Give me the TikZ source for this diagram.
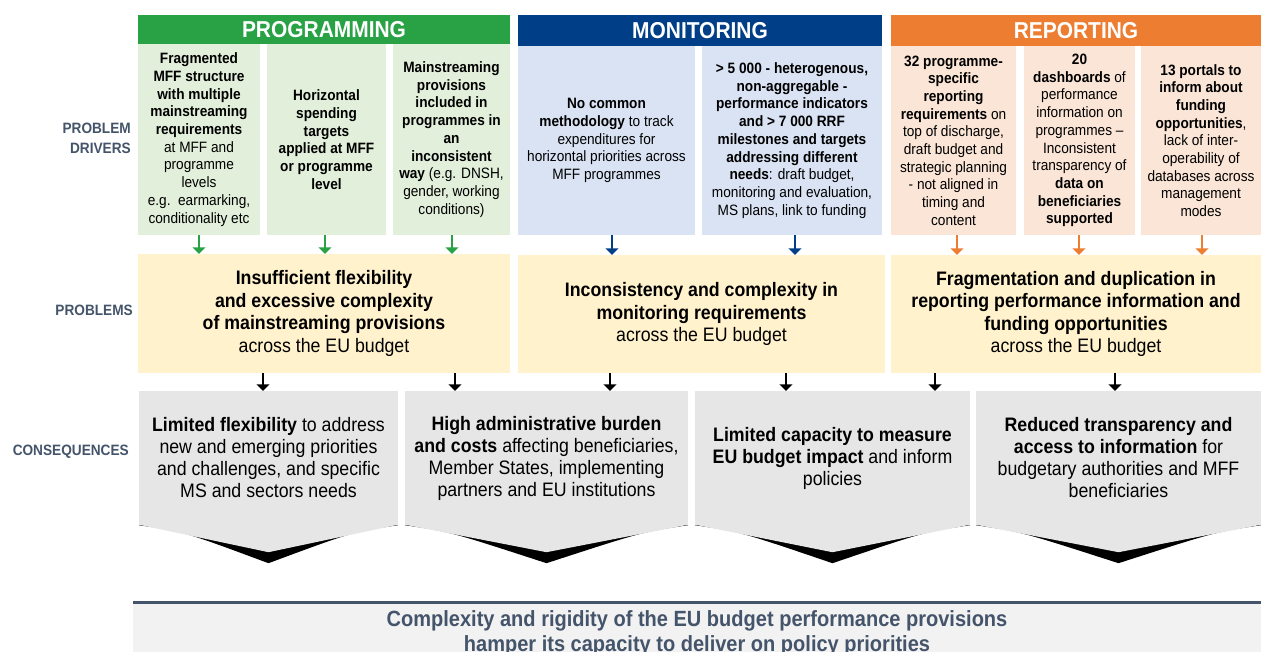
\documentclass[tikz,border=0pt]{standalone}
\usepackage{fontspec}
\setmainfont{Liberation Sans}[FakeStretch=0.91]
\usetikzlibrary{arrows.meta}
\definecolor{hgreen}{RGB}{40,162,69}
\definecolor{hblue}{RGB}{0,63,135}
\definecolor{horange}{RGB}{237,125,49}
\definecolor{lgreen}{RGB}{226,239,218}
\definecolor{lblue}{RGB}{218,227,243}
\definecolor{lpeach}{RGB}{251,229,214}
\definecolor{probY}{RGB}{255,242,204}
\definecolor{consG}{RGB}{231,230,230}
\definecolor{botG}{RGB}{242,242,242}
\definecolor{slate}{RGB}{68,84,106}
\tikzset{
  hdr/.style={text=white, inner sep=0pt, font=\bfseries\fontsize{23}{26}\selectfont},
  drv/.style={align=center, inner sep=0pt, text=black, font=\fontsize{15}{17.7}\selectfont},
  prob/.style={fill=probY, align=center, inner sep=0pt, text=black, font=\fontsize{19.5}{22.4}\selectfont},
  cons/.style={fill=consG, align=center, inner sep=0pt, text=black, font=\fontsize{19.5}{22}\selectfont},
  lbl/.style={anchor=east, align=right, inner sep=0pt, text=slate, font=\bfseries\fontsize{15}{20}\selectfont},
  arr/.style={line width=2.6pt, -{Triangle[width=13pt,length=6.5pt]}},
}
\begin{document}
\begin{tikzpicture}[x=1pt,y=-1pt]
\useasboundingbox (0,0) rectangle (1261,652);
\fill[white] (0,0) rectangle (1261,652);

% headers
\node[hdr, fill=hgreen, minimum width=372pt, minimum height=29pt] (h1) at (324,29.5) {PROGRAMMING};
\node[hdr, fill=hblue, minimum width=364pt, minimum height=31pt] (h2) at (700,30.5) {MONITORING};
\node[hdr, fill=horange, minimum width=370pt, minimum height=31pt] (h3) at (1076,30.5) {REPORTING};

% drivers
\node[drv, fill=lgreen, minimum width=122pt, minimum height=191pt] (d1) at (199,139.5)
 {\textbf{Fragmented}\\\textbf{MFF structure}\\\textbf{with multiple}\\\textbf{mainstreaming}\\\textbf{requirements}\\at MFF and\\programme\\levels\\e.g.\ \ earmarking,\\conditionality etc};
\node[drv, fill=lgreen, minimum width=119pt, minimum height=191pt] (d2) at (326.5,139.5)
 {\textbf{Horizontal}\\\textbf{spending}\\\textbf{targets}\\\textbf{applied at MFF}\\\textbf{or programme}\\\textbf{level}};
\node[drv, fill=lgreen, minimum width=117pt, minimum height=191pt] (d3) at (451.5,139.5)
 {\textbf{Mainstreaming}\\\textbf{provisions}\\\textbf{included in}\\\textbf{programmes in}\\\textbf{an}\\\textbf{inconsistent}\\\textbf{way} (e.g. DNSH,\\gender, working\\conditions)};
\node[drv, fill=lblue, minimum width=177pt, minimum height=189pt] (d4) at (606.5,140.5)
 {\textbf{No common}\\\textbf{methodology} to track\\expenditures for\\horizontal priorities across\\MFF programmes};
\node[drv, fill=lblue, minimum width=180pt, minimum height=189pt] (d5) at (792,140.5)
 {\textbf{> 5 000 - heterogenous,}\\\textbf{non-aggregable -}\\\textbf{performance indicators}\\\textbf{and > 7 000 RRF}\\\textbf{milestones and targets}\\\textbf{addressing different}\\\textbf{needs}: draft budget,\\monitoring and evaluation,\\MS plans, link to funding};
\node[drv, fill=lpeach, minimum width=125pt, minimum height=189pt] (d6) at (953.5,140.5)
 {\textbf{32 programme-}\\\textbf{specific}\\\textbf{reporting}\\\textbf{requirements} on\\top of discharge,\\draft budget and\\strategic planning\\- not aligned in\\timing and\\content};
\node[drv, fill=lpeach, minimum width=111pt, minimum height=189pt] (d7) at (1079.5,140.5)
 {\textbf{20}\\\textbf{dashboards} of\\performance\\information on\\programmes --\\Inconsistent\\transparency of\\\textbf{data on}\\\textbf{beneficiaries}\\\textbf{supported}};
\node[drv, fill=lpeach, minimum width=120pt, minimum height=189pt] (d8) at (1201,140.5)
 {\textbf{13 portals to}\\\textbf{inform about}\\\textbf{funding}\\\textbf{opportunities},\\lack of inter-\\operability of\\databases across\\management\\modes};

% problems
\node[prob, minimum width=372pt, minimum height=119pt] (p1) at (324,313.5)
 {\textbf{Insufficient flexibility}\\\textbf{and excessive complexity}\\\textbf{of mainstreaming provisions}\\across the EU budget};
\node[prob, minimum width=367pt, minimum height=118pt] (p2) at (701.5,314)
 {\textbf{Inconsistency and complexity in}\\\textbf{monitoring requirements}\\across the EU budget};
\node[prob, minimum width=370pt, minimum height=118pt] (p3) at (1076,314)
 {\textbf{Fragmentation and duplication in}\\\textbf{reporting performance information and}\\\textbf{funding opportunities}\\across the EU budget};

% consequences
\node[cons, minimum width=259pt, minimum height=134pt] (c1) at (268.5,458)
 {\textbf{Limited flexibility} to address\\new and emerging priorities\\and challenges, and specific\\MS and sectors needs};
\node[cons, minimum width=283pt, minimum height=134pt] (c2) at (546.5,458)
 {\textbf{High administrative burden}\\\textbf{and costs} affecting beneficiaries,\\Member States, implementing\\partners and EU institutions};
\node[cons, minimum width=275pt, minimum height=134pt] (c3) at (832.5,458)
 {\textbf{Limited capacity to measure}\\\textbf{EU budget impact} and inform\\policies};
\node[cons, minimum width=285pt, minimum height=134pt] (c4) at (1118.5,458)
 {\textbf{Reduced transparency and}\\\textbf{access to information} for\\budgetary authorities and MFF\\beneficiaries};

\foreach \c in {c1,c2,c3,c4}{
  \fill[black] (\c.south west) .. controls ([xshift=45pt,yshift=-6.5pt]\c.south west) .. ([yshift=-38pt]\c.south)
     .. controls ([xshift=-45pt,yshift=-6.5pt]\c.south east) .. (\c.south east) -- cycle;
  \fill[consG] ([yshift=0.5pt]\c.south west) -- ([yshift=-27pt]\c.south) -- ([yshift=0.5pt]\c.south east) -- cycle;
}

% side labels
\node[lbl] (l1) at (131,138) {PROBLEM\\DRIVERS};
\node[lbl] (l2) at (133,310) {PROBLEMS};
\node[lbl] (l3) at (129,452) {CONSEQUENCES};

% arrow x positions
\coordinate (a1) at (199,0);
\coordinate (a2) at (325,0);
\coordinate (a3) at (452,0);
\coordinate (a4) at (612,0);
\coordinate (a5) at (795,0);
\coordinate (a6) at (957,0);
\coordinate (a7) at (1079,0);
\coordinate (a8) at (1202,0);
\coordinate (b1) at (263,0);
\coordinate (b2) at (455,0);
\coordinate (b3) at (610,0);
\coordinate (b4) at (786,0);
\coordinate (b5) at (935,0);
\coordinate (b6) at (1115,0);

\draw[arr, hgreen] (d1.south -| a1) -- (p1.north -| a1);
\draw[arr, hgreen] (d2.south -| a2) -- (p1.north -| a2);
\draw[arr, hgreen] (d3.south -| a3) -- (p1.north -| a3);
\draw[arr, hblue] (d4.south -| a4) -- (p2.north -| a4);
\draw[arr, hblue] (d5.south -| a5) -- (p2.north -| a5);
\draw[arr, horange] (d6.south -| a6) -- (p3.north -| a6);
\draw[arr, horange] (d7.south -| a7) -- (p3.north -| a7);
\draw[arr, horange] (d8.south -| a8) -- (p3.north -| a8);

\draw[arr, black] (p1.south -| b1) -- (c1.north -| b1);
\draw[arr, black] (p1.south -| b2) -- (c2.north -| b2);
\draw[arr, black] (p2.south -| b3) -- (c2.north -| b3);
\draw[arr, black] (p2.south -| b4) -- (c3.north -| b4);
\draw[arr, black] (p3.south -| b5) -- (c3.north -| b5);
\draw[arr, black] (p3.south -| b6) -- (c4.north -| b6);

% bottom
\node[fill=botG, minimum width=1128pt, minimum height=50pt, inner sep=0pt] (bot) at (697,627.5) {};
\draw[slate, line width=3pt] (bot.north west) -- (bot.north east);
\node[align=center, inner sep=0pt, text=slate, font=\bfseries\fontsize{22}{25}\selectfont] (bt) at (697,633)
 {Complexity and rigidity of the EU budget performance provisions\\hamper its capacity to deliver on policy priorities};
\end{tikzpicture}
\end{document}
